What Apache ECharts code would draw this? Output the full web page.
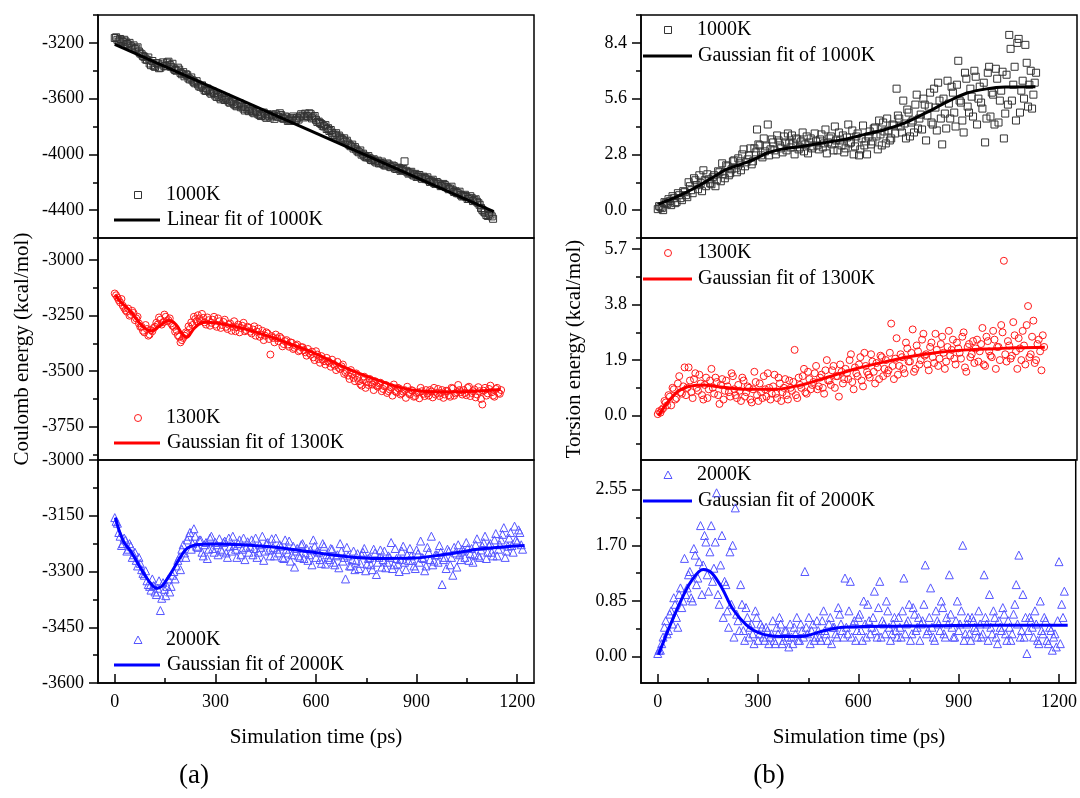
<!DOCTYPE html>
<html>
<head>
<meta charset="utf-8">
<script src="https://cdn.jsdelivr.net/npm/echarts@6/dist/echarts.min.js"></script>
<style>html,body{margin:0;padding:0;background:#fff;}#c{width:1080px;height:798px;}</style>
</head>
<body>
<div id="c"></div>
<script>
// ---------- DATA ----------
const TIME_STEP = 8;   // ps between frames within one sample set
const TIME_OFFSET_B = 4; // second (interleaved) sample set starts at 4 ps

// (a) Coulomb energy, 1000K: set A at t = 0,8,..,1128 ps; set B at t = 4,12,..,1124 ps
const coulomb1000 = [
-3165,-3178,-3172,-3195,-3190,-3212,-3225,-3218,-3240,-3262,
-3282,-3300,-3322,-3348,-3330,-3372,-3348,-3378,-3340,-3365,
-3335,-3372,-3385,-3400,-3392,-3425,-3440,-3432,-3462,-3470,
-3490,-3498,-3515,-3525,-3545,-3538,-3565,-3560,-3588,-3592,
-3580,-3610,-3605,-3630,-3622,-3648,-3640,-3662,-3672,-3660,
-3690,-3685,-3705,-3695,-3718,-3708,-3728,-3712,-3735,-3722,
-3712,-3730,-3718,-3745,-3735,-3755,-3740,-3760,-3738,-3728,
-3722,-3708,-3728,-3712,-3735,-3752,-3765,-3782,-3800,-3818,
-3832,-3845,-3858,-3872,-3880,-3898,-3910,-3922,-3942,-3958,
-3965,-3985,-4002,-4010,-4022,-4028,-4042,-4050,-4045,-4062,
-4068,-4080,-4072,-4092,-4085,-4105,-4098,-4112,-4050,-4125,
-4132,-4145,-4140,-4158,-4165,-4160,-4178,-4185,-4192,-4205,
-4198,-4215,-4225,-4220,-4238,-4245,-4258,-4265,-4280,-4292,
-4298,-4305,-4318,-4312,-4328,-4340,-4362,-4398,-4418,-4442,
-4432,-4462];
const coulomb1000B = [
-3160,-3190,-3185,-3178,-3208,-3200,-3235,-3245,-3232,-3275,
-3295,-3318,-3305,-3360,-3365,-3345,-3382,-3355,-3368,-3342,
-3358,-3350,-3395,-3378,-3415,-3410,-3425,-3455,-3448,-3482,
-3475,-3512,-3505,-3540,-3528,-3555,-3548,-3578,-3570,-3605,
-3598,-3592,-3622,-3615,-3640,-3655,-3632,-3650,-3685,-3678,
-3672,-3698,-3688,-3712,-3725,-3700,-3738,-3722,-3715,-3745,
-3728,-3705,-3740,-3728,-3760,-3748,-3728,-3752,-3750,-3712,
-3735,-3725,-3705,-3742,-3725,-3768,-3775,-3795,-3790,-3812,
-3825,-3862,-3848,-3865,-3888,-3885,-3902,-3935,-3930,-3948,
-3978,-3972,-3995,-4020,-4012,-4040,-4035,-4058,-4065,-4052,
-4078,-4065,-4088,-4080,-4102,-4095,-4118,-4105,-4118,-4138,
-4125,-4152,-4162,-4148,-4175,-4170,-4165,-4198,-4182,-4212,
-4208,-4228,-4212,-4235,-4250,-4232,-4270,-4278,-4268,-4302,
-4290,-4320,-4300,-4335,-4322,-4350,-4385,-4410,-4435,-4425,
-4445];
const coulomb1000Fit = [[0,-3210],[1130,-4410]];

// (a) Coulomb energy, 1300K: A at 0..1152 ps, B at 4..1148 ps
const coulomb1300 = [
-3150,-3168,-3190,-3205,-3225,-3218,-3245,-3238,-3262,-3285,
-3300,-3325,-3310,-3335,-3320,-3300,-3290,-3268,-3280,-3255,
-3270,-3285,-3300,-3315,-3345,-3360,-3340,-3330,-3310,-3292,
-3265,-3248,-3275,-3260,-3290,-3270,-3282,-3255,-3300,-3275,
-3292,-3268,-3310,-3285,-3300,-3320,-3290,-3305,-3282,-3315,
-3305,-3330,-3298,-3322,-3345,-3318,-3340,-3330,-3425,-3350,
-3335,-3365,-3352,-3378,-3360,-3390,-3372,-3395,-3380,-3405,
-3392,-3415,-3400,-3425,-3438,-3410,-3445,-3432,-3455,-3440,
-3462,-3448,-3475,-3458,-3490,-3470,-3505,-3520,-3495,-3530,
-3510,-3545,-3565,-3525,-3550,-3535,-3560,-3545,-3570,-3552,
-3580,-3562,-3590,-3572,-3560,-3595,-3578,-3600,-3585,-3570,
-3605,-3588,-3612,-3595,-3575,-3602,-3585,-3610,-3592,-3575,
-3598,-3612,-3585,-3605,-3590,-3615,-3578,-3600,-3562,-3595,
-3585,-3608,-3570,-3598,-3582,-3605,-3590,-3650,-3575,-3600,
-3565,-3610,-3580,-3598,-3585];
const coulomb1300B = [
-3158,-3180,-3175,-3215,-3232,-3250,-3228,-3270,-3255,-3300,
-3318,-3292,-3340,-3315,-3305,-3282,-3258,-3290,-3245,-3275,
-3262,-3295,-3322,-3338,-3370,-3350,-3325,-3298,-3280,-3255,
-3275,-3262,-3242,-3280,-3258,-3295,-3268,-3290,-3262,-3305,
-3278,-3300,-3290,-3318,-3275,-3302,-3325,-3295,-3320,-3300,
-3322,-3312,-3340,-3308,-3335,-3360,-3325,-3355,-3342,-3370,
-3352,-3345,-3388,-3365,-3380,-3370,-3400,-3385,-3410,-3392,
-3405,-3430,-3418,-3412,-3450,-3425,-3462,-3448,-3470,-3455,
-3480,-3468,-3495,-3485,-3478,-3512,-3498,-3535,-3515,-3545,
-3530,-3558,-3540,-3575,-3562,-3550,-3585,-3565,-3555,-3590,
-3568,-3598,-3582,-3610,-3590,-3575,-3605,-3592,-3620,-3598,
-3585,-3615,-3598,-3622,-3590,-3612,-3600,-3585,-3618,-3605,
-3580,-3598,-3620,-3588,-3608,-3575,-3610,-3595,-3585,-3605,
-3598,-3575,-3612,-3590,-3618,-3572,-3625,-3588,-3610,-3580,
-3595,-3615,-3575,-3602];
const coulomb1300Fit = [[2,-3157],[17,-3187],[48,-3232],[75,-3285],[95,-3312],[110,-3318],[130,-3300],[162,-3272],[183,-3291],[200,-3330],[214,-3348],[235,-3310],[255,-3284],[276,-3280],[330,-3290],[379,-3306],[462,-3344],[545,-3389],[607,-3426],[669,-3471],[731,-3511],[793,-3545],[855,-3575],[917,-3590],[1000,-3593],[1083,-3589],[1150,-3582]];

// (a) Coulomb energy, 2000K: A at 0..1216 ps, B at 4..1212 ps
const coulomb2000 = [
-3155,-3170,-3205,-3225,-3215,-3240,-3232,-3255,-3270,-3262,
-3295,-3310,-3325,-3340,-3320,-3355,-3345,-3405,-3330,-3365,
-3320,-3340,-3300,-3285,-3262,-3240,-3250,-3215,-3195,-3225,
-3205,-3235,-3215,-3258,-3222,-3240,-3205,-3248,-3228,-3212,
-3245,-3218,-3262,-3232,-3205,-3240,-3225,-3255,-3210,-3235,
-3248,-3215,-3238,-3262,-3228,-3205,-3245,-3222,-3258,-3235,
-3210,-3250,-3232,-3265,-3240,-3218,-3255,-3288,-3238,-3262,
-3225,-3250,-3270,-3242,-3215,-3262,-3248,-3278,-3232,-3255,
-3268,-3240,-3282,-3255,-3225,-3272,-3320,-3258,-3285,-3245,
-3270,-3292,-3255,-3238,-3280,-3262,-3295,-3250,-3275,-3242,
-3268,-3290,-3258,-3222,-3282,-3265,-3300,-3245,-3275,-3255,
-3238,-3270,-3292,-3252,-3218,-3265,-3285,-3248,-3205,-3272,
-3255,-3230,-3335,-3262,-3240,-3282,-3310,-3250,-3228,-3268,
-3245,-3222,-3270,-3238,-3255,-3212,-3262,-3232,-3205,-3248,
-3225,-3258,-3198,-3240,-3215,-3182,-3245,-3210,-3230,-3178,
-3220,-3195,-3240];
const coulomb2000B = [
-3165,-3195,-3230,-3210,-3245,-3225,-3262,-3248,-3285,-3278,
-3305,-3298,-3335,-3350,-3338,-3362,-3325,-3372,-3348,-3340,
-3355,-3310,-3320,-3270,-3295,-3228,-3262,-3205,-3240,-3185,
-3232,-3215,-3248,-3228,-3265,-3210,-3238,-3222,-3255,-3240,
-3222,-3250,-3210,-3245,-3230,-3262,-3215,-3240,-3268,-3220,
-3232,-3255,-3210,-3248,-3235,-3270,-3225,-3242,-3212,-3258,
-3240,-3228,-3262,-3215,-3250,-3272,-3232,-3245,-3258,-3228,
-3265,-3238,-3255,-3282,-3232,-3245,-3268,-3225,-3280,-3262,
-3238,-3275,-3258,-3290,-3245,-3262,-3235,-3285,-3268,-3295,
-3252,-3278,-3248,-3298,-3265,-3282,-3240,-3308,-3262,-3288,
-3245,-3275,-3262,-3292,-3238,-3280,-3268,-3232,-3295,-3270,
-3258,-3285,-3242,-3275,-3262,-3298,-3235,-3268,-3282,-3255,
-3275,-3248,-3268,-3292,-3245,-3262,-3235,-3288,-3255,-3240,
-3262,-3238,-3252,-3275,-3228,-3258,-3242,-3222,-3265,-3230,
-3248,-3215,-3258,-3228,-3200,-3262,-3232,-3195,-3248,-3215,
-3188,-3228];
const coulomb2000Fit = [[2,-3155],[12,-3187],[28,-3222],[48,-3246],[70,-3280],[89,-3309],[110,-3335],[125,-3345],[140,-3340],[151,-3327],[167,-3305],[182,-3282],[200,-3255],[217,-3237],[243,-3228],[294,-3226],[376,-3228],[479,-3235],[582,-3247],[684,-3259],[787,-3265],[889,-3264],[992,-3253],[1094,-3239],[1222,-3230]];

// (b) Torsion energy, 1000K: A at 0..1128 ps, B at 4..1124 ps
const torsion1000 = [
0.05,0.15,0.0,0.35,0.55,0.25,0.6,0.4,0.75,0.5,
0.9,0.65,1.2,0.85,1.5,1.05,1.35,2.0,1.2,1.55,
1.3,1.75,1.5,1.9,2.35,1.6,2.2,1.85,2.45,2.1,
2.6,2.0,3.05,2.4,2.75,2.3,3.1,4.05,3.25,2.65,
2.95,4.3,3.05,3.4,2.8,3.5,3.1,3.7,3.0,3.35,
3.75,2.8,3.55,3.15,3.9,3.3,2.85,3.6,3.2,3.45,
3.05,3.8,3.35,2.85,3.6,3.3,4.2,3.0,3.5,3.75,
3.1,4.3,3.4,2.8,3.7,2.75,3.6,3.25,2.8,3.95,
3.45,4.15,3.05,3.8,4.4,3.35,4.0,3.6,4.25,6.1,
4.6,3.9,4.35,5.05,3.7,4.5,5.3,4.1,4.8,5.6,
3.5,5.2,4.4,6.1,4.0,5.5,3.3,4.85,6.5,4.6,
5.9,4.2,7.5,5.4,3.9,6.6,4.9,5.7,7.0,4.3,
6.2,5.1,3.4,6.9,4.7,5.8,7.1,4.4,6.0,3.6,
6.8,8.8,5.5,7.2,8.4,4.9,6.5,8.3,5.2,7.0,
5.8,6.9];
const torsion1000B = [
0.2,0.1,0.4,0.3,0.45,0.7,0.35,0.85,0.6,0.95,
0.75,1.4,1.0,1.6,1.25,1.75,0.95,1.5,1.8,1.35,
1.65,1.2,1.95,1.45,1.8,2.25,1.75,2.05,2.5,1.9,
2.35,2.8,2.2,2.55,3.1,2.45,2.9,3.3,2.75,3.6,
3.2,2.75,3.55,3.0,3.75,3.25,2.9,3.4,3.85,3.15,
3.35,3.6,3.05,3.45,2.95,3.7,3.4,3.1,3.85,3.25,
3.55,3.15,4.05,3.4,3.7,3.0,3.5,3.9,3.25,2.9,
3.65,3.35,4.0,3.2,3.85,3.05,4.25,3.45,3.7,3.3,
4.1,3.7,4.5,3.25,3.95,4.6,3.5,4.3,3.85,4.75,
4.2,5.5,3.6,4.9,4.4,3.9,5.8,4.6,4.05,5.3,
4.75,5.9,4.3,5.15,6.4,4.6,5.6,4.1,5.35,6.2,
4.9,6.3,5.5,4.5,6.9,5.2,6.1,4.7,6.7,5.6,
5.4,6.4,4.6,7.2,5.9,4.3,6.6,5.5,6.95,4.85,
5.3,8.1,6.3,4.5,8.6,6.0,5.6,7.4,6.3,5.1,
6.4];
const torsion1000Fit = [[2,0.3],[59,0.69],[110,1.11],[161,1.61],[203,2.03],[244,2.28],[285,2.53],[326,2.87],[367,3.05],[429,3.2],[490,3.37],[552,3.54],[614,3.79],[676,4.04],[737,4.38],[799,4.88],[861,5.42],[922,5.88],[984,6.1],[1036,6.18],[1126,6.2]];

// (b) Torsion energy, 1300K: A at 0..1152 ps, B at 4..1148 ps
const torsion1300 = [
0.05,0.1,0.25,0.45,0.7,0.35,0.9,0.6,1.35,0.75,
1.65,0.95,1.2,0.6,1.45,0.85,1.1,0.55,1.3,0.9,
1.6,0.75,1.15,0.4,1.25,0.85,1.0,0.65,1.35,0.7,
1.05,0.5,1.2,0.8,0.95,0.45,1.5,0.7,1.1,0.6,
0.9,1.45,0.55,1.0,0.75,1.3,0.5,0.95,0.7,1.2,
0.85,2.25,0.6,1.05,1.35,0.8,1.5,0.9,1.15,1.7,
1.0,1.4,0.75,1.9,1.2,1.55,0.95,1.35,1.75,1.1,
1.6,1.25,2.1,0.9,1.45,1.75,1.2,2.15,1.5,1.3,
1.85,1.1,1.65,2.05,1.35,1.9,1.55,3.15,1.25,2.65,
1.7,2.0,1.45,2.3,1.85,2.95,1.6,2.2,1.9,2.8,
2.1,1.55,2.5,1.8,2.25,1.95,2.7,1.6,2.35,2.05,
2.6,1.75,2.3,1.95,2.85,1.5,2.45,2.1,1.8,2.6,
2.2,3.0,1.7,2.55,2.05,2.9,1.6,2.35,3.1,5.3,
1.85,2.4,2.05,2.75,1.6,2.3,2.9,1.75,3.75,2.1,
3.25,1.9,2.6,1.55,2.35];
const torsion1300B = [
0.15,0.2,0.5,0.35,0.65,0.95,0.55,1.1,0.8,1.0,
0.7,1.65,0.8,1.25,0.95,1.4,0.7,1.05,0.6,1.2,
0.95,1.3,0.7,1.05,0.55,1.2,0.8,1.45,0.9,0.6,
0.85,1.3,0.65,1.0,0.55,0.9,1.15,0.5,0.8,1.35,
0.65,0.95,0.75,1.4,0.6,1.1,0.8,1.25,0.55,0.95,
1.15,0.7,1.3,0.95,1.6,0.75,1.25,1.05,1.45,0.9,
1.3,0.95,1.55,1.2,1.05,1.7,1.35,0.65,1.5,1.25,
1.45,1.9,1.15,1.65,1.35,2.0,1.0,1.7,1.4,2.1,
1.5,1.8,1.25,2.0,1.6,1.45,2.15,1.7,1.95,1.4,
2.1,1.6,2.5,1.85,2.15,1.5,2.4,1.75,2.6,2.05,
1.75,2.35,2.0,2.8,1.7,2.45,2.15,1.85,2.9,2.25,
1.95,2.5,2.15,2.7,1.65,2.35,2.0,2.55,2.3,1.85,
2.45,1.75,2.7,2.2,2.0,2.6,2.35,1.9,2.85,2.1,
2.55,1.95,3.2,2.2,2.65,1.9,2.4,3.1,2.0,2.7,
1.8,2.45,2.2,2.75];
const torsion1300Fit = [[2,0.0],[28,0.43],[59,0.82],[89,0.99],[131,1.05],[182,0.99],[264,0.9],[347,0.9],[429,1.05],[511,1.33],[593,1.61],[676,1.84],[758,2.03],[840,2.17],[922,2.25],[1005,2.29],[1066,2.32],[1154,2.34]];

// (b) Torsion energy, 2000K: A at 0..1216 ps, B at 4..1212 ps
const torsion2000 = [
0.05,0.1,0.3,0.55,0.4,0.7,0.9,0.6,0.95,0.75,
1.5,1.05,1.3,0.85,1.55,1.2,2.0,1.4,1.75,1.0,
2.0,1.35,2.5,0.8,1.85,1.15,0.7,1.6,1.7,2.27,
0.55,1.1,0.4,0.75,0.3,0.5,0.2,0.6,0.35,0.45,
0.25,0.4,0.3,0.55,0.2,0.35,0.5,0.25,0.4,0.15,
0.3,0.45,0.6,0.25,0.4,1.3,0.35,0.2,0.5,0.3,
0.4,0.25,0.7,0.35,0.5,0.2,0.45,0.3,0.65,0.4,
1.2,0.35,1.15,0.5,0.25,0.6,0.4,0.85,0.3,0.55,
0.45,1.0,0.3,1.15,0.55,0.35,0.7,0.25,0.5,0.4,
0.6,0.3,1.2,0.5,0.8,0.35,0.65,0.45,0.25,0.55,
1.4,0.4,1.05,0.3,0.7,0.5,0.85,0.35,0.6,1.25,
0.45,0.3,0.85,0.5,1.7,0.35,0.6,0.25,0.55,0.4,
0.7,0.3,1.25,0.5,0.95,0.35,0.6,0.2,0.45,0.75,
0.35,0.55,0.25,0.65,1.1,1.55,0.4,0.3,0.05,0.6,
0.45,0.7,0.25,0.85,0.35,0.55,0.2,0.4,0.3,0.15,
1.45,0.8,1.0];
const torsion2000B = [
0.1,0.2,0.45,0.35,0.65,0.5,0.8,0.45,1.05,0.85,
0.95,1.25,0.9,1.65,1.1,1.45,0.95,1.85,1.25,1.6,
1.15,1.75,0.95,1.4,0.6,1.1,0.45,0.8,0.3,0.65,
0.4,0.8,0.25,0.6,0.45,0.35,0.7,0.25,0.5,0.3,
0.45,0.2,0.35,0.25,0.45,0.6,0.2,0.4,0.3,0.5,
0.2,0.35,0.25,0.5,0.3,0.45,0.6,0.4,0.25,0.55,
0.3,0.55,0.4,0.25,0.6,0.45,0.35,0.75,0.5,0.3,
0.45,0.7,0.3,0.55,0.4,0.65,0.25,0.5,0.8,0.35,
0.6,0.4,0.75,0.3,0.5,0.85,0.45,0.35,0.6,0.3,
0.45,0.7,0.35,0.55,0.25,0.75,0.4,0.6,0.5,0.8,
0.35,0.6,0.45,0.25,0.55,0.4,0.75,0.3,0.5,0.65,
0.3,0.55,0.4,0.7,0.25,0.5,0.35,0.6,0.45,0.3,
0.5,0.35,0.6,0.25,0.45,0.7,0.3,0.55,0.4,0.65,
0.25,0.45,0.35,0.8,0.5,0.3,0.95,0.6,0.4,0.55,
0.3,0.5,0.2,0.4,0.6,0.25,0.45,0.1,0.35,0.55,
0.2,0.6];
const torsion2000Fit = [[2,0.03],[38,0.49],[69,0.85],[100,1.15],[136,1.33],[161,1.28],[192,1.05],[223,0.74],[264,0.49],[305,0.36],[367,0.31],[429,0.31],[491,0.39],[552,0.45],[614,0.46],[778,0.47],[984,0.48],[1226,0.48]];

// tick values
const timeTicks = [0, 300, 600, 900, 1200];
const timeMinorTicks = [150, 450, 750, 1050];
const coulomb1000Ticks = [-4400, -4000, -3600, -3200];
const coulomb1000Minor = [-4600, -4200, -3800, -3400, -3000];
const coulomb1300Ticks = [-3750, -3500, -3250, -3000];
const coulomb1300Minor = [-3875, -3625, -3375, -3125];
const coulomb2000Ticks = [-3600, -3450, -3300, -3150, -3000];
const coulomb2000Minor = [-3525, -3375, -3225, -3075];
const torsion1000Ticks = [0, 2.8, 5.6, 8.4];
const torsion1000Minor = [-1.4, 1.4, 4.2, 7.0, 9.8];
const torsion1300Ticks = [0, 1.9, 3.8, 5.7];
const torsion1300Minor = [-0.95, 0.95, 2.85, 4.75];
const torsion2000Ticks = [0, 0.85, 1.70, 2.55];
const torsion2000Minor = [0.425, 1.275, 2.125];

// ---------- LAYOUT ----------
const FONT = '"Liberation Serif", "DejaVu Serif", serif';
const GX = [98, 641], GW = 436;
const GY = [15, 238, 460], GH = [223, 222, 223];
const XMIN = -50, XMAX = 1250;

const panels = [
  {col:0,row:0,data:coulomb1000,dataB:coulomb1000B,fit:coulomb1000Fit,min:-4600,max:-3000,ticks:coulomb1000Ticks,minor:coulomb1000Minor,dec:0,
   sym:'rect',color:'#333333',line:'#000000',name:'1000K',fitName:'Linear fit of 1000K',size:7},
  {col:0,row:1,data:coulomb1300,dataB:coulomb1300B,fit:coulomb1300Fit,min:-3900,max:-2900,ticks:coulomb1300Ticks,minor:coulomb1300Minor,dec:0,
   sym:'circle',color:'#ff1a1a',line:'#ff0000',name:'1300K',fitName:'Gaussian fit of 1300K',size:7},
  {col:0,row:2,data:coulomb2000,dataB:coulomb2000B,fit:coulomb2000Fit,min:-3600,max:-3000,ticks:coulomb2000Ticks,minor:coulomb2000Minor,dec:0,
   sym:'triangle',color:'#5555ff',line:'#0000ff',name:'2000K',fitName:'Gaussian fit of 2000K',size:8},
  {col:1,row:0,data:torsion1000,dataB:torsion1000B,fit:torsion1000Fit,min:-1.4,max:9.8,ticks:torsion1000Ticks,minor:torsion1000Minor,dec:1,
   sym:'rect',color:'#333333',line:'#000000',name:'1000K',fitName:'Gaussian fit of 1000K',size:7},
  {col:1,row:1,data:torsion1300,dataB:torsion1300B,fit:torsion1300Fit,min:-1.52,max:6.08,ticks:torsion1300Ticks,minor:torsion1300Minor,dec:1,
   sym:'circle',color:'#ff1a1a',line:'#ff0000',name:'1300K',fitName:'Gaussian fit of 1300K',size:7},
  {col:1,row:2,data:torsion2000,dataB:torsion2000B,fit:torsion2000Fit,min:-0.4,max:3.0,ticks:torsion2000Ticks,minor:torsion2000Minor,dec:2,
   sym:'triangle',color:'#5555ff',line:'#0000ff',name:'2000K',fitName:'Gaussian fit of 2000K',size:8}
];

const grid = [], xAxis = [], yAxis = [], series = [], graphic = [];
const axisColor = '#000';
panels.forEach((p, i) => {
  grid.push({show:true, borderColor:'#000', borderWidth:1.5, backgroundColor:'transparent',
    left: GX[p.col], top: GY[p.row], width: GW, height: GH[p.row]});
  const bottom = p.row === 2;
  xAxis.push({
    gridIndex:i, type:'value', min:XMIN, max:XMAX, show:bottom, position:'bottom',
    axisLine:{show:true, onZero:false, lineStyle:{color:axisColor, width:1.5}},
    axisTick:{show:true, inside:true, length:9, customValues:timeTicks, lineStyle:{color:axisColor, width:1.5}},
    axisLabel:{customValues:timeTicks, margin:10, color:'#000', fontFamily:FONT, fontSize:18, formatter:(v)=>String(v)},
    splitLine:{show:false}
  });
  yAxis.push({
    gridIndex:i, type:'value', min:p.min, max:p.max, position:'left',
    axisLine:{show:true, onZero:false, lineStyle:{color:axisColor, width:1.5}},
    axisTick:{show:true, inside:false, length:9, customValues:p.ticks, lineStyle:{color:axisColor, width:1.5}},
    axisLabel:{customValues:p.ticks, margin:14, color:'#000', fontFamily:FONT, fontSize:18,
      formatter:(v)=>Number(v).toFixed(p.dec)},
    splitLine:{show:false}
  });
  const pts = p.data.map((v,k)=>[k*TIME_STEP, v])
    .concat(p.dataB.map((v,k)=>[TIME_OFFSET_B + k*TIME_STEP, v]));
  series.push({
    type:'scatter', xAxisIndex:i, yAxisIndex:i, name:p.name+'-'+i,
    data:pts, symbol:p.sym, symbolSize:p.size,
    itemStyle:{color:'rgba(0,0,0,0)', borderColor:p.color, borderWidth:1, opacity:1},
    emphasis:{disabled:true}, silent:true, animation:false, z:2
  });
  series.push({
    type:'line', xAxisIndex:i, yAxisIndex:i, name:p.fitName+'-'+i,
    data:p.fit, smooth:0.35, symbol:'none',
    lineStyle:{color:p.line, width:3}, silent:true, animation:false, z:3
  });
});
// overlay grids for minor ticks + legends
panels.forEach((p, i) => {
  const j = i + 6;
  grid.push({show:false, left: GX[p.col], top: GY[p.row], width: GW, height: GH[p.row]});
  xAxis.push({
    gridIndex:j, type:'value', min:XMIN, max:XMAX, show:p.row===2, position:'bottom',
    axisLine:{show:false, onZero:false},
    axisTick:{show:true, inside:true, length:5, customValues:timeMinorTicks, lineStyle:{color:axisColor, width:1.5}},
    axisLabel:{show:false}, splitLine:{show:false}
  });
  yAxis.push({
    gridIndex:j, type:'value', min:p.min, max:p.max, position:'left',
    axisLine:{show:false, onZero:false},
    axisTick:{show:true, inside:false, length:5, customValues:p.minor, lineStyle:{color:axisColor, width:1.5}},
    axisLabel:{show:false}, splitLine:{show:false}
  });

  const left = p.col === 0;
  const top = GY[p.row];
  const y1 = left ? top + 180 : top + 15;
  const y2 = left ? top + 205 : top + 41;
  const sx = left ? 138 : 668;
  const tx = left ? 166 : 697;
  const lx1 = left ? 114 : 643, lx2 = left ? 160 : 692;
  const stroke = {fill:'none', stroke:p.color, lineWidth:1};
  if (p.sym === 'rect') {
    graphic.push({type:'rect', shape:{x:sx-3.5, y:y1-3.5, width:7, height:7}, style:stroke, silent:true});
  } else if (p.sym === 'circle') {
    graphic.push({type:'circle', shape:{cx:sx, cy:y1, r:3.5}, style:stroke, silent:true});
  } else {
    graphic.push({type:'polygon', shape:{points:[[sx, y1-4],[sx+4, y1+3.5],[sx-4, y1+3.5]]}, style:stroke, silent:true});
  }
  graphic.push({type:'text', x:tx, y:y1, silent:true,
    style:{text:p.name, font:'20px ' + FONT, fill:'#000', textAlign:'left', textVerticalAlign:'middle', verticalAlign:'middle'}});
  graphic.push({type:'line', shape:{x1:lx1, y1:y2, x2:lx2, y2:y2}, style:{stroke:p.line, lineWidth:3}, silent:true});
  graphic.push({type:'text', x:tx+1, y:y2, silent:true,
    style:{text:p.fitName, font:'20px ' + FONT, fill:'#000', textAlign:'left', textVerticalAlign:'middle', verticalAlign:'middle'}});
});

function txt(text, x, y, size, rot) {
  graphic.push({type:'text', x:x, y:y, rotation:rot||0, silent:true,
    style:{text:text, font:size+'px ' + FONT, fill:'#000', textAlign:'center', textVerticalAlign:'middle', verticalAlign:'middle', align:'center'}});
}
txt('Simulation time (ps)', 316, 737, 21);
txt('Simulation time (ps)', 859, 737, 21);
txt('(a)', 194, 776, 27);
txt('(b)', 769, 776, 27);
txt('Coulomb energy (kcal/mol)', 22, 349, 21, Math.PI/2);
txt('Torsion energy (kcal/mol)', 574, 349, 21, Math.PI/2);

const chart = echarts.init(document.getElementById('c'), null, {renderer:'canvas'});
chart.setOption({
  animation:false,
  backgroundColor:'#fff',
  grid:grid, xAxis:xAxis, yAxis:yAxis, series:series, graphic:graphic
});
</script>
</body>
</html>
